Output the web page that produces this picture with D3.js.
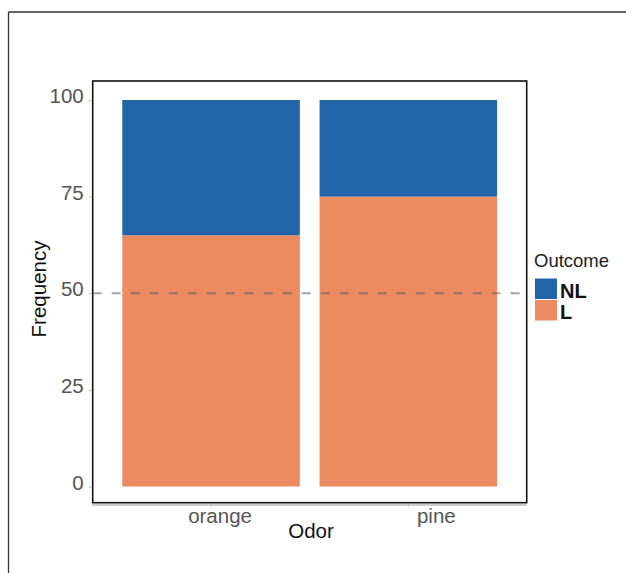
<!DOCTYPE html>
<html>
<head>
<meta charset="utf-8">
<script src="https://cdn.jsdelivr.net/npm/d3@7"></script>
<style>
  html, body { margin: 0; padding: 0; background: #fff; }
  svg { display: block; font-family: "Liberation Sans", Arial, Helvetica, sans-serif; }
</style>
</head>
<body>
<svg id="chart" width="626" height="573"></svg>
<script>
// ---- data ----
const odors = ["orange", "pine"];
const outcomes = ["NL", "L"];
const valuesL = [65, 75];     // lower (L) segment, percent
const valuesNL = [35, 25];    // upper (NL) segment, percent
const yTicks = [0, 25, 50, 75, 100];
const refLine = 50;
const outcomeColors = ["#2264a8", "#ec8a62"]; // NL, L

// ---- layout ----
const svg = d3.select("#chart");
const panel = { left: 92.7, right: 526.7, top: 81, bottom: 502.7 };
const labelShift = { orange: 9, pine: 28 };

// outer frame (top and left edges)
svg.append("line").attr("x1", 8.5).attr("x2", 626).attr("y1", 12).attr("y2", 12)
  .attr("stroke", "#333").attr("stroke-width", 1.3);
svg.append("line").attr("x1", 8.5).attr("x2", 8.5).attr("y1", 12).attr("y2", 573)
  .attr("stroke", "#333").attr("stroke-width", 1.3);

const x = d3.scaleBand().domain(odors)
  .range([panel.left, panel.right])
  .paddingInner(0.1).paddingOuter(0.15);
const y = d3.scaleLinear().domain([0, 100]).range([486.5, 100]);
const color = d3.scaleOrdinal().domain(outcomes).range(outcomeColors);

// stacked data
const rows = odors.map((o, i) => ({ odor: o, L: valuesL[i], NL: valuesNL[i] }));
const stack = d3.stack().keys(["L", "NL"])(rows);

// panel shadow line below
svg.append("line")
  .attr("x1", panel.left - 1).attr("x2", panel.right)
  .attr("y1", panel.bottom + 2.3).attr("y2", panel.bottom + 2.3)
  .attr("stroke", "#bdbdbd").attr("stroke-width", 1.5);

// bars
svg.append("g").selectAll("g").data(stack).join("g")
  .attr("fill", d => color(d.key))
  .selectAll("rect").data(d => d).join("rect")
  .attr("x", d => x(d.data.odor))
  .attr("width", x.bandwidth())
  .attr("y", d => y(d[1]))
  .attr("height", d => y(d[0]) - y(d[1]));

// dashed reference line
svg.append("line")
  .attr("x1", panel.left).attr("x2", panel.right - 3)
  .attr("y1", y(refLine)).attr("y2", y(refLine))
  .attr("stroke", "#5a5a5a").attr("stroke-opacity", 0.55)
  .attr("stroke-width", 2).attr("stroke-dasharray", "9,10");

// panel border
svg.append("rect")
  .attr("x", panel.left).attr("y", panel.top)
  .attr("width", panel.right - panel.left).attr("height", panel.bottom - panel.top)
  .attr("fill", "none").attr("stroke", "#111").attr("stroke-width", 1.6);

// y axis
const yAxis = d3.axisLeft(y).tickValues(yTicks).tickSize(3).tickPadding(5);
const gy = svg.append("g").attr("transform", `translate(${panel.left - 1},0)`).call(yAxis);
gy.select(".domain").remove();
gy.selectAll(".tick line").attr("stroke", "#bbb");
gy.selectAll(".tick text")
  .attr("fill", "#555").attr("font-size", 20.5)
  .attr("font-family", "Liberation Sans, Arial, sans-serif")
  .attr("dy", "0.13em");

// x axis
const xAxis = d3.axisBottom(x).tickSize(3).tickPadding(2);
const gx = svg.append("g").attr("transform", `translate(0,${panel.bottom + 1})`).call(xAxis);
gx.select(".domain").remove();
gx.selectAll(".tick line").attr("stroke", "#bbb");
gx.selectAll(".tick text")
  .attr("fill", "#555").attr("font-size", 20.5)
  .attr("font-family", "Liberation Sans, Arial, sans-serif")
  .attr("dx", d => labelShift[d]);

// axis titles
svg.append("text").text("Odor")
  .attr("x", 311).attr("y", 538).attr("text-anchor", "middle")
  .attr("font-size", 20.5).attr("fill", "#111");
svg.append("text").text("Frequency")
  .attr("transform", "translate(46,289) rotate(-90)")
  .attr("text-anchor", "middle").attr("font-size", 20.5).attr("fill", "#111");

// legend
const lg = svg.append("g");
lg.append("text").text("Outcome").attr("x", 534).attr("y", 267)
  .attr("font-size", 18.5).attr("fill", "#222");
const items = lg.selectAll("g.item").data(outcomes).join("g")
  .attr("class", "item")
  .attr("transform", (d, i) => `translate(535,${278.5 + i * 21.5})`);
items.append("rect").attr("width", 22).attr("height", 20.5)
  .attr("fill", d => color(d));
items.append("text").text(d => d).attr("x", 25).attr("y", 19)
  .attr("font-size", 20).attr("font-weight", "bold").attr("fill", "#111");
</script>
</body>
</html>
